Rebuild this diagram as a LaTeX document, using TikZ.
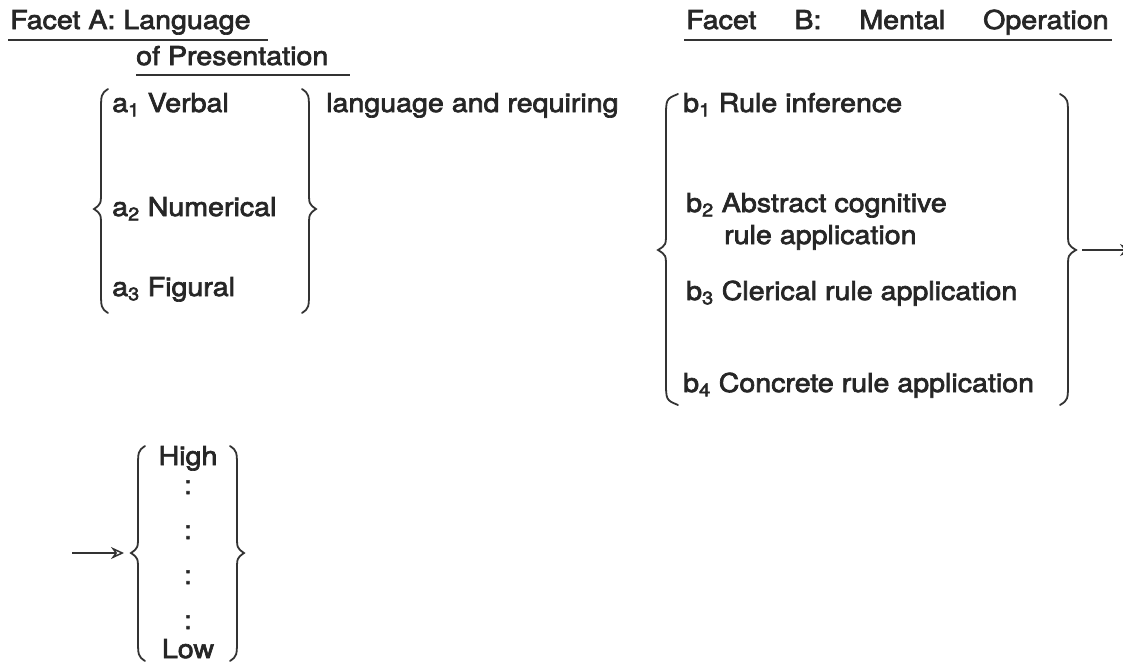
\documentclass[tikz,border=0pt]{standalone}
\usepackage{fontspec}
\usepackage{graphicx}
\setmainfont{TeX Gyre Heros}
\newfontfamily\hvmed[FakeBold=2.5]{TeX Gyre Heros}
\usetikzlibrary{arrows.meta}
\newcommand\sx[1]{\scalebox{1.1}[1]{#1}}
% #1 x of ends, #2 x of shaft, #3 x of tip, #4 y top, #5 y of tip, #6 y bottom
\newcommand\bracepath[6]{%
  \draw[bracestyle] (#1,#4) .. controls (#2,{#4+5}) .. (#2,{#4+24})
    -- (#2,{#5-18}) .. controls (#2,{#5-5}) .. (#3,#5)
    .. controls (#2,{#5+5}) .. (#2,{#5+18})
    -- (#2,{#6-24}) .. controls (#2,{#6-5}) .. (#1,#6);}
\begin{document}
\begin{tikzpicture}[x=1pt,y=-1pt,
  txt/.style={anchor=base west,inner sep=0pt,text=black!85,
    font=\fontsize{26}{30}\hvmed},
  ctxt/.style={txt,anchor=base},
  bracestyle/.style={draw=black!80,line width=1.8pt,line cap=round},
  uline/.style={draw=black!80,line width=1.6pt},
  arr/.style={draw=black!80,line width=1.5pt,-{Stealth[open,length=13pt,width=12pt]}}]
\useasboundingbox (0,0) rectangle (1123,662);
% headings
\node[txt] (hA1) at (10,29) {\sx{Facet A: Language}};
\node[txt] (hA2) at (136,65) {\sx{of Presentation}};
\node[txt] (hB) at (686,29) {\sx{\makebox[384pt][s]{Facet B: Mental Operation}}};
\draw[uline] (8,40) -- (268,40);
\draw[uline] (136,75) -- (350,75);
\draw[uline] (684,40) -- (1112,40);
% facet A
\node[txt] (a1) at (112,112) {\sx{a\textsubscript{1} Verbal}};
\node[txt] (a2) at (112,216) {\sx{a\textsubscript{2} Numerical}};
\node[txt] (a3) at (112,296) {\sx{a\textsubscript{3} Figural}};
\bracepath{108}{101}{94}{89}{209}{313}
\bracepath{302}{309}{316}{89}{209}{313}
\node[txt] (lang) at (326,112) {\sx{language and requiring}};
% facet B
\node[txt] (b1) at (683,112) {\sx{b\textsubscript{1} Rule inference}};
\node[txt] (b2) at (686,212) {\sx{b\textsubscript{2} Abstract cognitive}};
\node[txt] (b2b) at (724,244) {\sx{rule application}};
\node[txt] (b3) at (686,300) {\sx{b\textsubscript{3} Clerical rule application}};
\node[txt] (b4) at (683,392) {\sx{b\textsubscript{4} Concrete rule application}};
\bracepath{678}{666}{658}{94}{250}{405}
\bracepath{1060}{1068}{1076}{94}{250}{405}
\coordinate (btip) at (1082,250);
\coordinate (bout) at (1133,250);
\draw[arr] (btip) -- (bout);
% scale
\node[ctxt] (high) at (188,465) {\sx{High}};
\node[ctxt] (c1) at (188,494) {:};
\node[ctxt] (c2) at (188,539) {:};
\node[ctxt] (c3) at (188,584) {:};
\node[ctxt] (c4) at (188,629) {:};
\node[ctxt] (low) at (188,658) {\sx{Low}};
\bracepath{145}{138}{131}{446}{553}{661}
\bracepath{230}{237}{244}{446}{553}{661}
\coordinate (sfrom) at (72,553);
\coordinate (sto) at (124,553);
\draw[arr] (sfrom) -- (sto);
\end{tikzpicture}
\end{document}
